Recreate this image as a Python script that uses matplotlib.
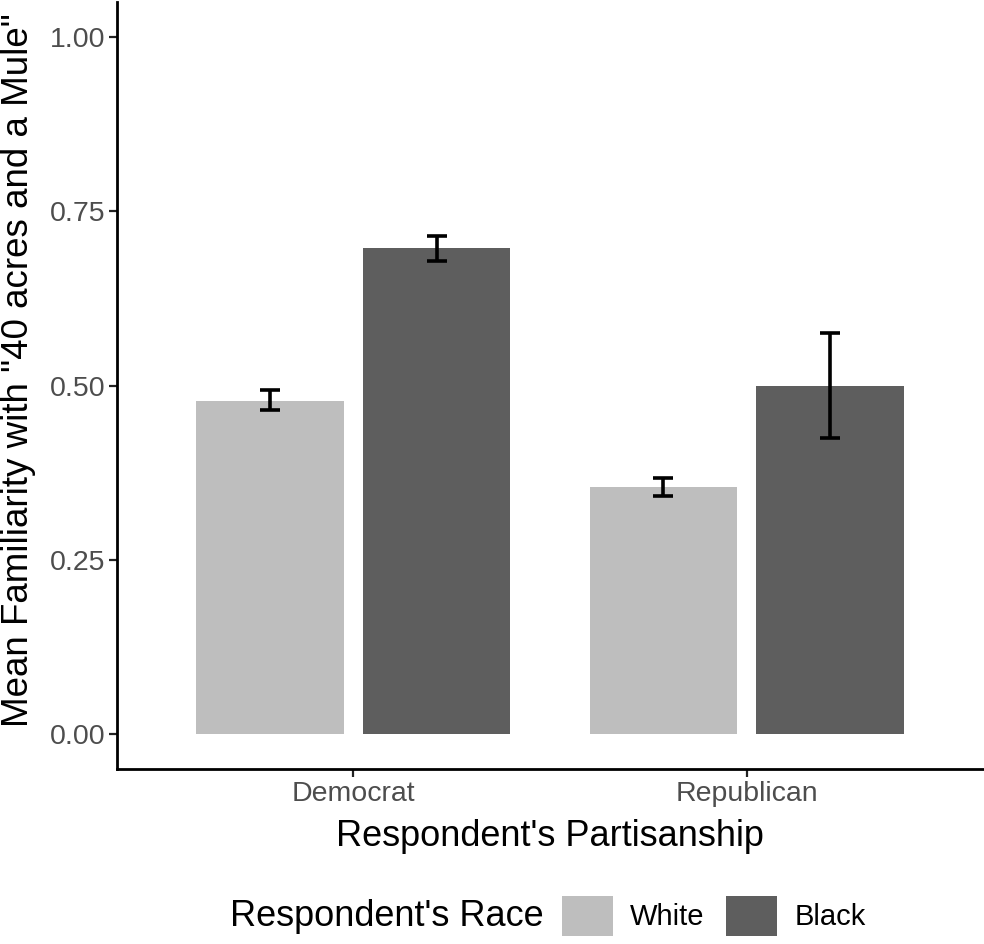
import matplotlib
matplotlib.use("Agg")
import matplotlib.pyplot as plt
from matplotlib.patches import Patch
import numpy as np

plt.rcParams['font.family'] = ['Liberation Sans', 'DejaVu Sans']

# data
parties = ['Democrat', 'Republican']
races = ['White', 'Black']
means = {'White': [0.478, 0.354], 'Black': [0.697, 0.499]}
lower = {'White': [0.465, 0.341], 'Black': [0.679, 0.424]}
upper = {'White': [0.494, 0.368], 'Black': [0.715, 0.576]}
colors = {'White': '#bebebe', 'Black': '#5e5e5e'}

fig = plt.figure(figsize=(9.84, 9.44), dpi=100)
ax = fig.add_axes([117 / 984, 1 - 769 / 944, 866 / 984, 767 / 944])

x = np.arange(1, len(parties) + 1)
bar_w = 0.375
offs = {'White': -0.212, 'Black': 0.212}

for r in races:
    m = np.array(means[r])
    lo = m - np.array(lower[r])
    hi = np.array(upper[r]) - m
    ax.bar(x + offs[r], m, width=bar_w, color=colors[r], label=r, zorder=2)
    ax.errorbar(x + offs[r], m, yerr=[lo, hi], fmt='none', ecolor='black',
                elinewidth=2.6, capsize=7.2, capthick=2.6, zorder=3)

ax.set_xlim(0.4, 2.6)
ax.set_ylim(-0.05, 1.05)
ax.set_yticks([0, 0.25, 0.5, 0.75, 1.0])
ax.set_yticklabels(['0.00', '0.25', '0.50', '0.75', '1.00'])
ax.set_xticks(x)
ax.set_xticklabels(parties)

for s in ['top', 'right']:
    ax.spines[s].set_visible(False)
for s in ['left', 'bottom']:
    ax.spines[s].set_linewidth(2.0)
    ax.spines[s].set_color('black')
    ax.spines[s].set_capstyle('projecting')

ax.tick_params(axis='both', length=5.5, width=1.6, color='#222222',
               labelsize=20.5, labelcolor='#4d4d4d', pad=3)

ax.set_xlabel("Respondent's Partisanship", fontsize=26, labelpad=9)
ax.set_ylabel('Mean Familiarity with "40 acres and a Mule"', fontsize=26.5,
              va='center', ha='center')
ax.yaxis.set_label_coords(-0.1143, 0.52)

# legend at the bottom, title on the left
fig.text(230 / 984, 1 - 916 / 944, "Respondent's Race", fontsize=26,
         ha='left', va='center')
handles = [Patch(facecolor=colors[r], edgecolor='none', label=r) for r in races]
fig.legend(handles=handles, ncol=2, loc='center left',
           bbox_to_anchor=(562 / 984, 1 - 916 / 944), frameon=False,
           fontsize=21, handlelength=1.75, handleheight=1.78,
           handletextpad=0.58, columnspacing=0.75, borderaxespad=0, borderpad=0)

fig.savefig('out.png', dpi=100)
